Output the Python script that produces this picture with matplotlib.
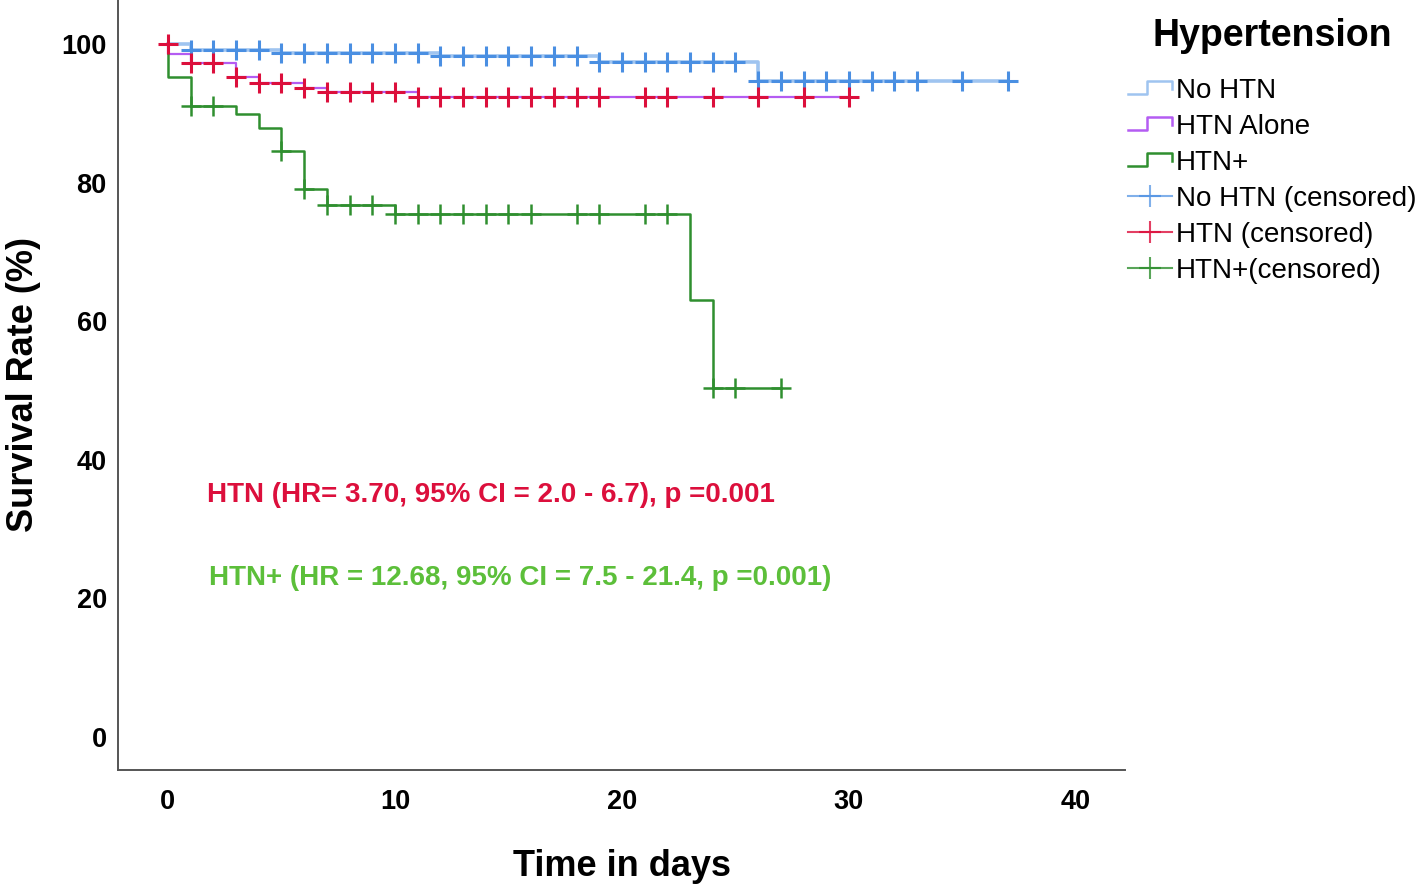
import numpy as np
import matplotlib
matplotlib.use('Agg')
import matplotlib.pyplot as plt
from matplotlib.lines import Line2D
from matplotlib.legend_handler import HandlerBase

plt.rcParams['font.family'] = ['Liberation Sans', 'DejaVu Sans']

# Kaplan-Meier step curves (time in days, survival %)
no_htn_t = [0, 1, 5, 12, 19, 26, 37]
no_htn_s = [100, 99.2, 98.7, 98.3, 97.4, 94.6, 94.6]

htn_t = [0, 0, 1, 3, 4, 6, 7, 11, 30]
htn_s = [100, 98.6, 97.2, 95.3, 94.3, 93.6, 93.1, 92.4, 92.4]

htnp_t = [0, 0, 1, 3, 4, 5, 6, 7, 10, 23, 24, 27]
htnp_s = [100, 95.2, 91.1, 89.9, 87.8, 84.6, 79.0, 76.8, 75.5, 63.0, 50.4, 50.4]

# censored times
no_htn_c = list(range(1, 34)) + [35, 37]
htn_c = list(range(0, 20)) + [21, 22, 24, 26, 28, 30]
htnp_c = [1, 2] + list(range(5, 17)) + [18, 19, 21, 22, 24, 25, 27]

legend_title = 'Hypertension'
legend_labels = ['No HTN', 'HTN Alone', 'HTN+',
                 'No HTN (censored)', 'HTN (censored)', 'HTN+(censored)']

htn_note = 'HTN (HR= 3.70, 95% CI = 2.0 - 6.7), p =0.001'
htnp_note = 'HTN+ (HR = 12.68, 95% CI = 7.5 - 21.4, p =0.001)'

BLUE_LINE = '#9fc4f0'
BLUE_MARK = '#4a8fe2'
PURPLE = '#b45cf2'
RED = '#dc0f3c'
GREEN = '#2f8f2f'
GREEN_TXT = '#5cbf3a'


def at_time(t, s, c):
    # survival value right after time c (step function)
    if c == 0:
        return s[0]
    i = np.searchsorted(t, c, side='right') - 1
    return s[i]


class StepHandler(HandlerBase):
    def create_artists(self, legend, orig_handle, xdescent, ydescent,
                       width, height, fontsize, trans):
        w, h = width, height
        xs = [-xdescent, 0.42 * w, 0.42 * w, w, w]
        ys = [0.2 * h, 0.2 * h, 0.9 * h, 0.9 * h, 0.45 * h]
        ln = Line2D(xs, ys, color=orig_handle.get_color(), lw=1.8, transform=trans)
        return [ln]


fig = plt.figure(figsize=(14.18, 8.85), dpi=100)
ax = fig.add_axes([0.0832, 0.13, 0.7102, 0.87])

l1, = ax.plot(no_htn_t, no_htn_s, drawstyle='steps-post', color=BLUE_LINE, lw=2.6)
l2, = ax.plot(htn_t, htn_s, drawstyle='steps-post', color=PURPLE, lw=1.6)
l3, = ax.plot(htnp_t, htnp_s, drawstyle='steps-post', color=GREEN, lw=1.8)

ax.plot(no_htn_c, [at_time(no_htn_t, no_htn_s, c) for c in no_htn_c], '+',
        color=BLUE_MARK, ms=15, mew=2.2)
ax.plot(htn_c, [at_time(htn_t, htn_s, c) for c in htn_c], '+',
        color=RED, ms=15, mew=2.2)
ax.plot(htnp_c, [at_time(htnp_t, htnp_s, c) for c in htnp_c], '+',
        color=GREEN, ms=15, mew=1.8)

ax.text(1.72, 34.9, htn_note, color=RED, fontsize=20, fontweight='bold', va='center')
ax.text(1.8, 22.9, htnp_note, color=GREEN_TXT, fontsize=20, fontweight='bold', va='center')

ax.set_xlim(-2.2, 42.16)
ax.set_ylim(-4.8, 106.35)
ax.set_xticks([0, 10, 20, 30, 40])
ax.set_yticks([0, 20, 40, 60, 80, 100])
ax.tick_params(length=0, labelsize=19.5)
ax.tick_params(axis='x', pad=14)
ax.tick_params(axis='y', pad=8)
for lab in ax.get_xticklabels() + ax.get_yticklabels():
    lab.set_fontweight('bold')

ax.set_xlabel('Time in days', fontsize=26, fontweight='bold', labelpad=24)
ax.set_ylabel('Survival Rate (%)', fontsize=26, fontweight='bold', labelpad=15)

for side in ['top', 'right']:
    ax.spines[side].set_visible(False)
for side in ['left', 'bottom']:
    ax.spines[side].set_color('#555555')
    ax.spines[side].set_linewidth(1.4)

c1 = Line2D([], [], color=BLUE_MARK, marker='+', ms=16, mew=1.5, lw=1.5, alpha=0.7)
c2 = Line2D([], [], color=RED, marker='+', ms=16, mew=1.5, lw=1.5, alpha=0.8)
c3 = Line2D([], [], color=GREEN, marker='+', ms=16, mew=1.5, lw=1.5, alpha=0.8)

fig.text(1272 / 1418, 1 - 36 / 885, legend_title, fontsize=27, fontweight='bold',
         ha='center', va='center')
leg = fig.legend([l1, l2, l3, c1, c2, c3], legend_labels,
                 handler_map={l1: StepHandler(), l2: StepHandler(), l3: StepHandler()},
                 loc='upper left', bbox_to_anchor=(1128 / 1418, 1 - 78 / 885),
                 frameon=False, fontsize=20,
                 handlelength=1.6, handletextpad=0.12, labelspacing=0.36,
                 borderpad=0, borderaxespad=0, numpoints=1)

fig.savefig('out.png', dpi=100)
